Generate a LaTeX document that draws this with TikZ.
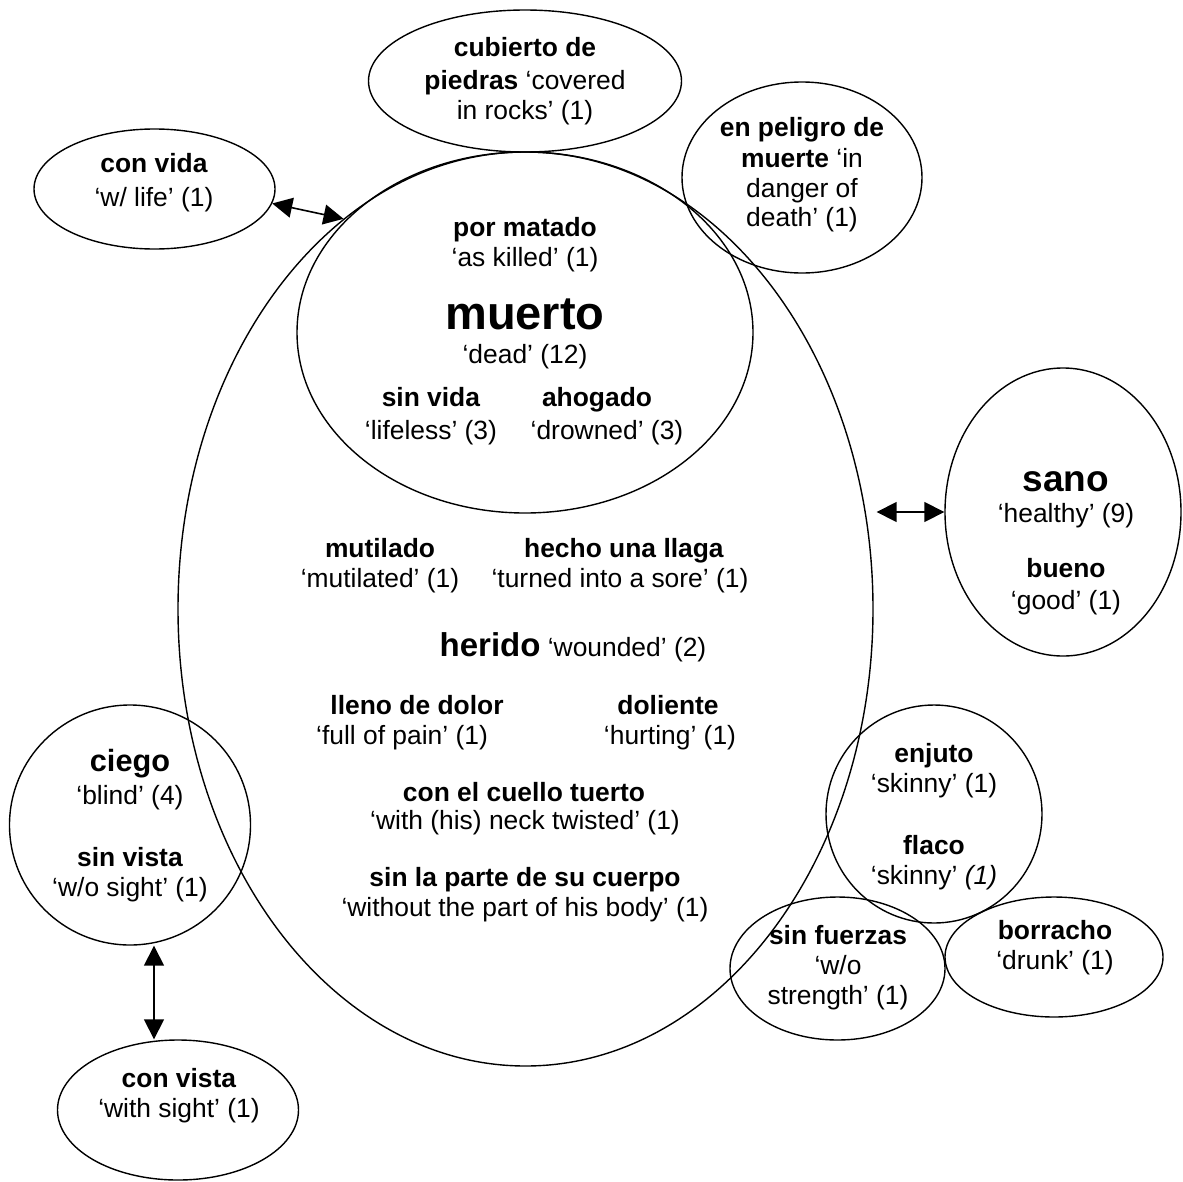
\documentclass[tikz,border=0pt]{standalone}
\usepackage{fontspec}
\setmainfont{Liberation Sans}
\usetikzlibrary{shapes.geometric,arrows.meta,calc}
\begin{document}
\begin{tikzpicture}[x=1pt,y=-1pt,
  oval/.style={draw,ellipse,inner sep=0pt,line width=1.4pt},
  lbl/.style={font=\fontsize{26.4}{30.4}\selectfont,inner sep=0pt,text height=19pt,text depth=0pt,anchor=center},
  big/.style={font=\fontsize{#1}{#1}\selectfont\bfseries,inner sep=0pt,anchor=center},
  dbl/.style={{Triangle[length=20pt,width=20pt]}-{Triangle[length=20pt,width=20pt]},line width=1.6pt}]
\useasboundingbox (0,0) rectangle (1183,1181);
% ovals
\node[oval,minimum width=695pt,minimum height=914pt] (bigov) at (525.5,609) {};
\node[oval,minimum width=456pt,minimum height=361pt] (muerto) at (525,332.5) {};
\node[oval,minimum width=313pt,minimum height=142pt] (cubierto) at (525,81) {};
\node[oval,minimum width=240pt,minimum height=191pt] (peligro) at (802,177.5) {};
\node[oval,minimum width=241pt,minimum height=120pt] (convida) at (154.5,189) {};
\node[oval,minimum width=236pt,minimum height=288pt] (sano) at (1063,512) {};
\node[oval,minimum width=241pt,minimum height=240pt] (ciego) at (130,825) {};
\node[oval,minimum width=241pt,minimum height=140pt] (convista) at (178,1110) {};
\node[oval,minimum width=216pt,minimum height=218pt] (enjuto) at (934,814) {};
\node[oval,minimum width=215pt,minimum height=143pt] (fuerzas) at (837.5,968.5) {};
\node[oval,minimum width=218pt,minimum height=120pt] (borracho) at (1054,957) {};
% connectors
\draw[dbl] (convida.-7) -- (bigov.115.4);
\coordinate (sanotip) at ([xshift=10pt]bigov.15.8);
\draw[dbl] (sanotip |- sano.west) -- (sano.west);
\coordinate (cvmid) at ($(ciego.south)!0.5!(convista.north)$);
\draw[dbl] (ciego.south -| cvmid) -- (convista.north -| cvmid);
% cubierto
\node[lbl] (t1) at (525,47) {\textbf{cubierto de}};
\node[lbl] (t2) at (525,80) {\textbf{piedras} ‘covered};
\node[lbl] (t3) at (525,110) {in rocks’ (1)};
% peligro
\node[lbl] (p1) at (802,127) {\textbf{en peligro de}};
\node[lbl] (p2) at (802,158) {\textbf{muerte} ‘in};
\node[lbl] (p3) at (802,188) {danger of};
\node[lbl] (p4) at (802,217) {death’ (1)};
% con vida
\node[lbl] (cv1) at (154,163) {\textbf{con vida}};
\node[lbl] (cv2) at (154,197) {‘w/ life’ (1)};
% muerto
\node[lbl] (m1) at (525,227) {\textbf{por matado}};
\node[lbl] (m2) at (525,257) {‘as killed’ (1)};
\node[big=47,text height=33.6pt,text depth=0pt] (m3) at (525,313) {muerto};
\node[lbl] (m4) at (525,354) {‘dead’ (12)};
\node[lbl] (m5) at (431,397) {\textbf{sin vida}};
\node[lbl] (m6) at (431,430) {‘lifeless’ (3)};
\node[lbl] (m7) at (597,397) {\textbf{ahogado}};
\node[lbl] (m8) at (607,430) {‘drowned’ (3)};
% herido area
\node[lbl] (h1) at (380,548) {\textbf{mutilado}};
\node[lbl] (h2) at (380,578) {‘mutilated’ (1)};
\node[lbl] (h3) at (624,548) {\textbf{hecho una llaga}};
\node[lbl] (h4) at (620,578) {‘turned into a sore’ (1)};
\node[lbl] (h5) at (573,647) {{\fontsize{33}{33}\selectfont\bfseries herido} ‘wounded’ (2)};
\node[lbl] (h6) at (417,705) {\textbf{lleno de dolor}};
\node[lbl] (h7) at (402,735) {‘full of pain’ (1)};
\node[lbl] (h8) at (668,705) {\textbf{doliente}};
\node[lbl] (h9) at (670,735) {‘hurting’ (1)};
\node[lbl] (h10) at (524,792) {\textbf{con el cuello tuerto}};
\node[lbl] (h11) at (525,820) {‘with (his) neck twisted’ (1)};
\node[lbl] (h12) at (525,877) {\textbf{sin la parte de su cuerpo}};
\node[lbl] (h13) at (525,907) {‘without the part of his body’ (1)};
% ciego
\node[big=30.7,text height=22pt,text depth=0pt] (c1) at (130,760) {ciego};
\node[lbl] (c2) at (130,795) {‘blind’ (4)};
\node[lbl] (c3) at (130,857) {\textbf{sin vista}};
\node[lbl] (c4) at (130,887) {‘w/o sight’ (1)};
% con vista
\node[lbl] (v1) at (179,1078) {\textbf{con vista}};
\node[lbl] (v2) at (179,1108) {‘with sight’ (1)};
% sano
\node[big=37,text height=26.5pt,text depth=0pt] (s1) at (1066,478) {sano};
\node[lbl] (s2) at (1066,513) {‘healthy’ (9)};
\node[lbl] (s3) at (1066,568) {\textbf{bueno}};
\node[lbl] (s4) at (1066,600) {‘good’ (1)};
% enjuto / flaco
\node[lbl] (e1) at (934,753) {\textbf{enjuto}};
\node[lbl] (e2) at (934,783) {‘skinny’ (1)};
\node[lbl] (e3) at (934,845) {\textbf{flaco}};
\node[lbl] (e4) at (934,875) {‘skinny’ \textit{(1)}};
% sin fuerzas
\node[lbl] (f1) at (838,935) {\textbf{sin fuerzas}};
\node[lbl] (f2) at (838,965) {‘w/o};
\node[lbl] (f3) at (838,995) {strength’ (1)};
% borracho
\node[lbl] (b1) at (1055,930) {\textbf{borracho}};
\node[lbl] (b2) at (1055,960) {‘drunk’ (1)};
\end{tikzpicture}
\end{document}
